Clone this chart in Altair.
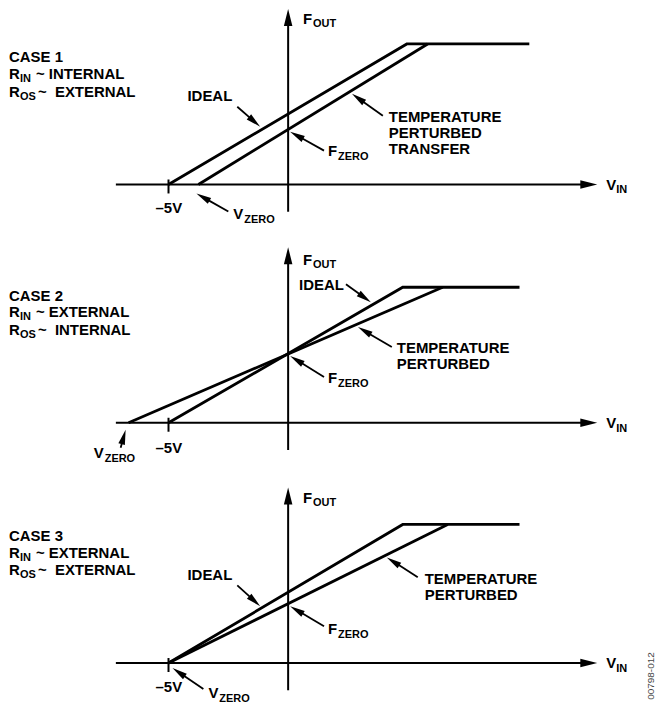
import math
import altair as alt
import pandas as pd

# ---------------- scale of the drawing ----------------
PX_V = 24.0      # pixels per volt on the V_IN axis
PX_F = 14.0      # pixels per F_OUT unit
PANEL_W = 649
PANEL_H = 230
X_DOMAIN = [-280 / PX_V, 369 / PX_V]
F_TOP = [12.571, 13.214, 14.0]          # top of each panel in F units

FONT = "Liberation Sans"
MAIN_SIZE = 15
SUB_SIZE = 11

# ---------------- data ----------------
CASES = ["CASE 1", "CASE 2", "CASE 3"]
R_IN_KIND = ["~ INTERNAL", "~ EXTERNAL", "~ EXTERNAL"]
R_OS_KIND = ["~\u00a0\u00a0EXTERNAL", "~\u00a0\u00a0INTERNAL", "~\u00a0\u00a0EXTERNAL"]

# transfer functions: V_IN (volts) -> F_OUT (arb. units)
IDEAL_V = [[-5, 4.96, 10.08], [-5, 4.79, 9.67], [-5, 4.79, 9.67]]
IDEAL_F = [[0, 10.07, 10.07], [0, 9.71, 9.71], [0, 9.93, 9.93]]
PERT_V = [[-3.75, 5.83], [-6.67, 6.46], [-5, 6.67]]
PERT_F = [[0, 10.07], [0, 9.71], [0, 9.93]]

X_AXIS = [-7.2, 12.92]
Y_AXIS = [-1.95, 12.57]
TICK_V = -5
TICK_F = [0.36, -0.64]

# annotation text anchors (V, F)
F_OUT_POS = [(0.625, 11.5), (0.625, 11.286), (0.625, 11.5)]
IDEAL_POS = [(-4.208, 6.0), (0.458, 9.5), (-4.208, 5.929)]
F_ZERO_POS = [(1.667, 2.071), (1.667, 2.857), (1.667, 2.071)]
TEMP_POS = [(4.208, [4.5, 3.357, 2.214]), (4.542, [5.0, 3.857]), (5.708, [5.643, 4.5])]
TEMP_LINES = [["TEMPERATURE", "PERTURBED", "TRANSFER"],
              ["TEMPERATURE", "PERTURBED"],
              ["TEMPERATURE", "PERTURBED"]]
V_IN_POS = [(13.292, -0.357)] * 3
M5V_POS = [(-5.542, -2.071), (-5.542, -2.143), (-5.542, -2.071)]
V_ZERO_POS = [(-2.292, -2.5), (-8.125, -2.5), (-3.333, -2.5)]
CASE_F = [8.76, 7.55, 6.3]
CASE_V = -11.667

# label arrows: (V0, F0, V1, F1), tip at (V1, F1)
ARROWS = [
    [(-2.125, 5.571, -1.167, 4.143), (1.5, 2.429, 0.083, 3.786),
     (3.958, 4.929, 2.667, 6.5), (-2.5, -1.929, -3.833, -0.643)],
    [(2.417, 9.929, 3.458, 8.643), (1.5, 3.286, 0.083, 4.786),
     (4.333, 5.429, 2.917, 6.857), (-7.0, -1.786, -6.792, -0.5)],
    [(-2.125, 5.571, -1.167, 4.071), (1.5, 2.643, 0.083, 4.071),
     (5.417, 6.143, 4.125, 7.571), (-3.542, -1.857, -4.833, -0.357)],
]
CODE_LABEL = "00798-012"
CODE_POS = (15.167, -0.929)

HEAD = "M0,0L-0.45,2L0.45,2Z"


def arrow_parts(v0, f0, v1, f1, head_len):
    dx = (v1 - v0) * PX_V
    dy = -(f1 - f0) * PX_F
    n = math.hypot(dx, dy)
    ux, uy = dx / n, dy / n
    ang = math.degrees(math.atan2(dx, -dy)) % 360
    ve = v1 - ux * head_len * 0.8 / PX_V
    fe = f1 + uy * head_len * 0.8 / PX_F
    return (v0, f0, ve, fe), (v1, f1, ang)


def panel(i):
    xs = alt.Scale(domain=X_DOMAIN, nice=False, zero=False)
    ys = alt.Scale(domain=[F_TOP[i] - PANEL_H / PX_F, F_TOP[i]], nice=False, zero=False)

    # transfer curves
    rows = []
    for k, (v, f) in enumerate(zip(IDEAL_V[i], IDEAL_F[i])):
        rows.append({"V": v, "F": f, "s": "ideal", "o": k})
    for k, (v, f) in enumerate(zip(PERT_V[i], PERT_F[i])):
        rows.append({"V": v, "F": f, "s": "perturbed", "o": k})
    curves = alt.Chart(pd.DataFrame(rows)).mark_line(
        color="black", strokeWidth=2.8, strokeJoin="miter", clip=False
    ).encode(
        x=alt.X("V:Q", scale=xs, axis=None),
        y=alt.Y("F:Q", scale=ys, axis=None),
        detail="s:N", order="o:Q",
    )

    # axes with arrowheads
    ax_seg, ax_head = [], []
    s, h = arrow_parts(X_AXIS[0], 0, X_AXIS[1], 0, 17)
    ax_seg.append(s); ax_head.append(h)
    s, h = arrow_parts(0, Y_AXIS[0], 0, Y_AXIS[1], 17)
    ax_seg.append(s); ax_head.append(h)
    ax_seg.append((TICK_V, TICK_F[0], TICK_V, TICK_F[1]))
    seg_df = pd.DataFrame(ax_seg, columns=["V", "F", "V2", "F2"])
    head_df = pd.DataFrame(ax_head, columns=["V", "F", "ang"])
    axes = alt.Chart(seg_df).mark_rule(color="black", strokeWidth=2).encode(
        x=alt.X("V:Q", scale=xs), y=alt.Y("F:Q", scale=ys), x2="V2", y2="F2")
    axheads = alt.Chart(head_df).mark_point(
        shape="M0,0L-0.5,2L0.5,2Z", filled=True, color="black", opacity=1,
        size=289, strokeWidth=0
    ).encode(x=alt.X("V:Q", scale=xs), y=alt.Y("F:Q", scale=ys),
             angle=alt.Angle("ang:Q", scale=None))

    # label arrows
    segs, heads = [], []
    for a in ARROWS[i]:
        s, h = arrow_parts(*a, 15)
        segs.append(s); heads.append(h)
    lseg = alt.Chart(pd.DataFrame(segs, columns=["V", "F", "V2", "F2"])).mark_rule(
        color="black", strokeWidth=1.8).encode(
        x=alt.X("V:Q", scale=xs), y=alt.Y("F:Q", scale=ys), x2="V2", y2="F2")
    lhead = alt.Chart(pd.DataFrame(heads, columns=["V", "F", "ang"])).mark_point(
        shape=HEAD, filled=True, color="black", opacity=1, size=225, strokeWidth=0
    ).encode(x=alt.X("V:Q", scale=xs), y=alt.Y("F:Q", scale=ys),
             angle=alt.Angle("ang:Q", scale=None))

    # texts
    main, sub = [], []
    main.append((CASE_V, CASE_F[0], CASES[i]))
    main.append((CASE_V, CASE_F[1], "R"))
    sub.append((CASE_V + 11 / PX_V, CASE_F[1] - 3 / PX_F, "IN"))
    main.append((CASE_V + 27 / PX_V, CASE_F[1], R_IN_KIND[i]))
    main.append((CASE_V, CASE_F[2], "R"))
    sub.append((CASE_V + 11 / PX_V, CASE_F[2] - 3 / PX_F, "OS"))
    main.append((CASE_V + 29 / PX_V, CASE_F[2], R_OS_KIND[i]))

    v, f = F_OUT_POS[i]
    main.append((v, f, "F")); sub.append((v + 10 / PX_V, f - 3 / PX_F, "OUT"))
    v, f = F_ZERO_POS[i]
    main.append((v, f, "F")); sub.append((v + 10 / PX_V, f - 4 / PX_F, "ZERO"))
    v, f = V_IN_POS[i]
    main.append((v, f, "V")); sub.append((v + 10 / PX_V, f - 4 / PX_F, "IN"))
    v, f = V_ZERO_POS[i]
    main.append((v, f, "V")); sub.append((v + 11 / PX_V, f - 4 / PX_F, "ZERO"))
    v, f = IDEAL_POS[i]
    main.append((v, f, "IDEAL"))
    v, f = M5V_POS[i]
    main.append((v, f, "\u20135V"))
    v, fs = TEMP_POS[i]
    for line, f in zip(TEMP_LINES[i], fs):
        main.append((v, f, line))

    mtext = alt.Chart(pd.DataFrame(main, columns=["V", "F", "t"])).mark_text(
        align="left", baseline="alphabetic", font=FONT, fontWeight="bold",
        fontSize=MAIN_SIZE, color="black"
    ).encode(x=alt.X("V:Q", scale=xs), y=alt.Y("F:Q", scale=ys), text="t:N")
    stext = alt.Chart(pd.DataFrame(sub, columns=["V", "F", "t"])).mark_text(
        align="left", baseline="alphabetic", font=FONT, fontWeight="bold",
        fontSize=SUB_SIZE, color="black"
    ).encode(x=alt.X("V:Q", scale=xs), y=alt.Y("F:Q", scale=ys), text="t:N")

    layers = [curves, axes, axheads, lseg, lhead, mtext, stext]
    if i == 2:
        code = alt.Chart(pd.DataFrame([{"V": CODE_POS[0], "F": CODE_POS[1], "t": CODE_LABEL}])).mark_text(
            angle=270, align="center", baseline="middle", font=FONT,
            fontSize=10, color="#444444"
        ).encode(x=alt.X("V:Q", scale=xs), y=alt.Y("F:Q", scale=ys), text="t:N")
        layers.append(code)

    return alt.layer(*layers).properties(width=PANEL_W, height=PANEL_H)


chart = alt.vconcat(panel(0), panel(1), panel(2), spacing=0).properties(
    padding=0
).configure_view(stroke=None).configure_concat(spacing=0)

chart.save("out.html", embed_options={"renderer": "svg", "actions": False})
